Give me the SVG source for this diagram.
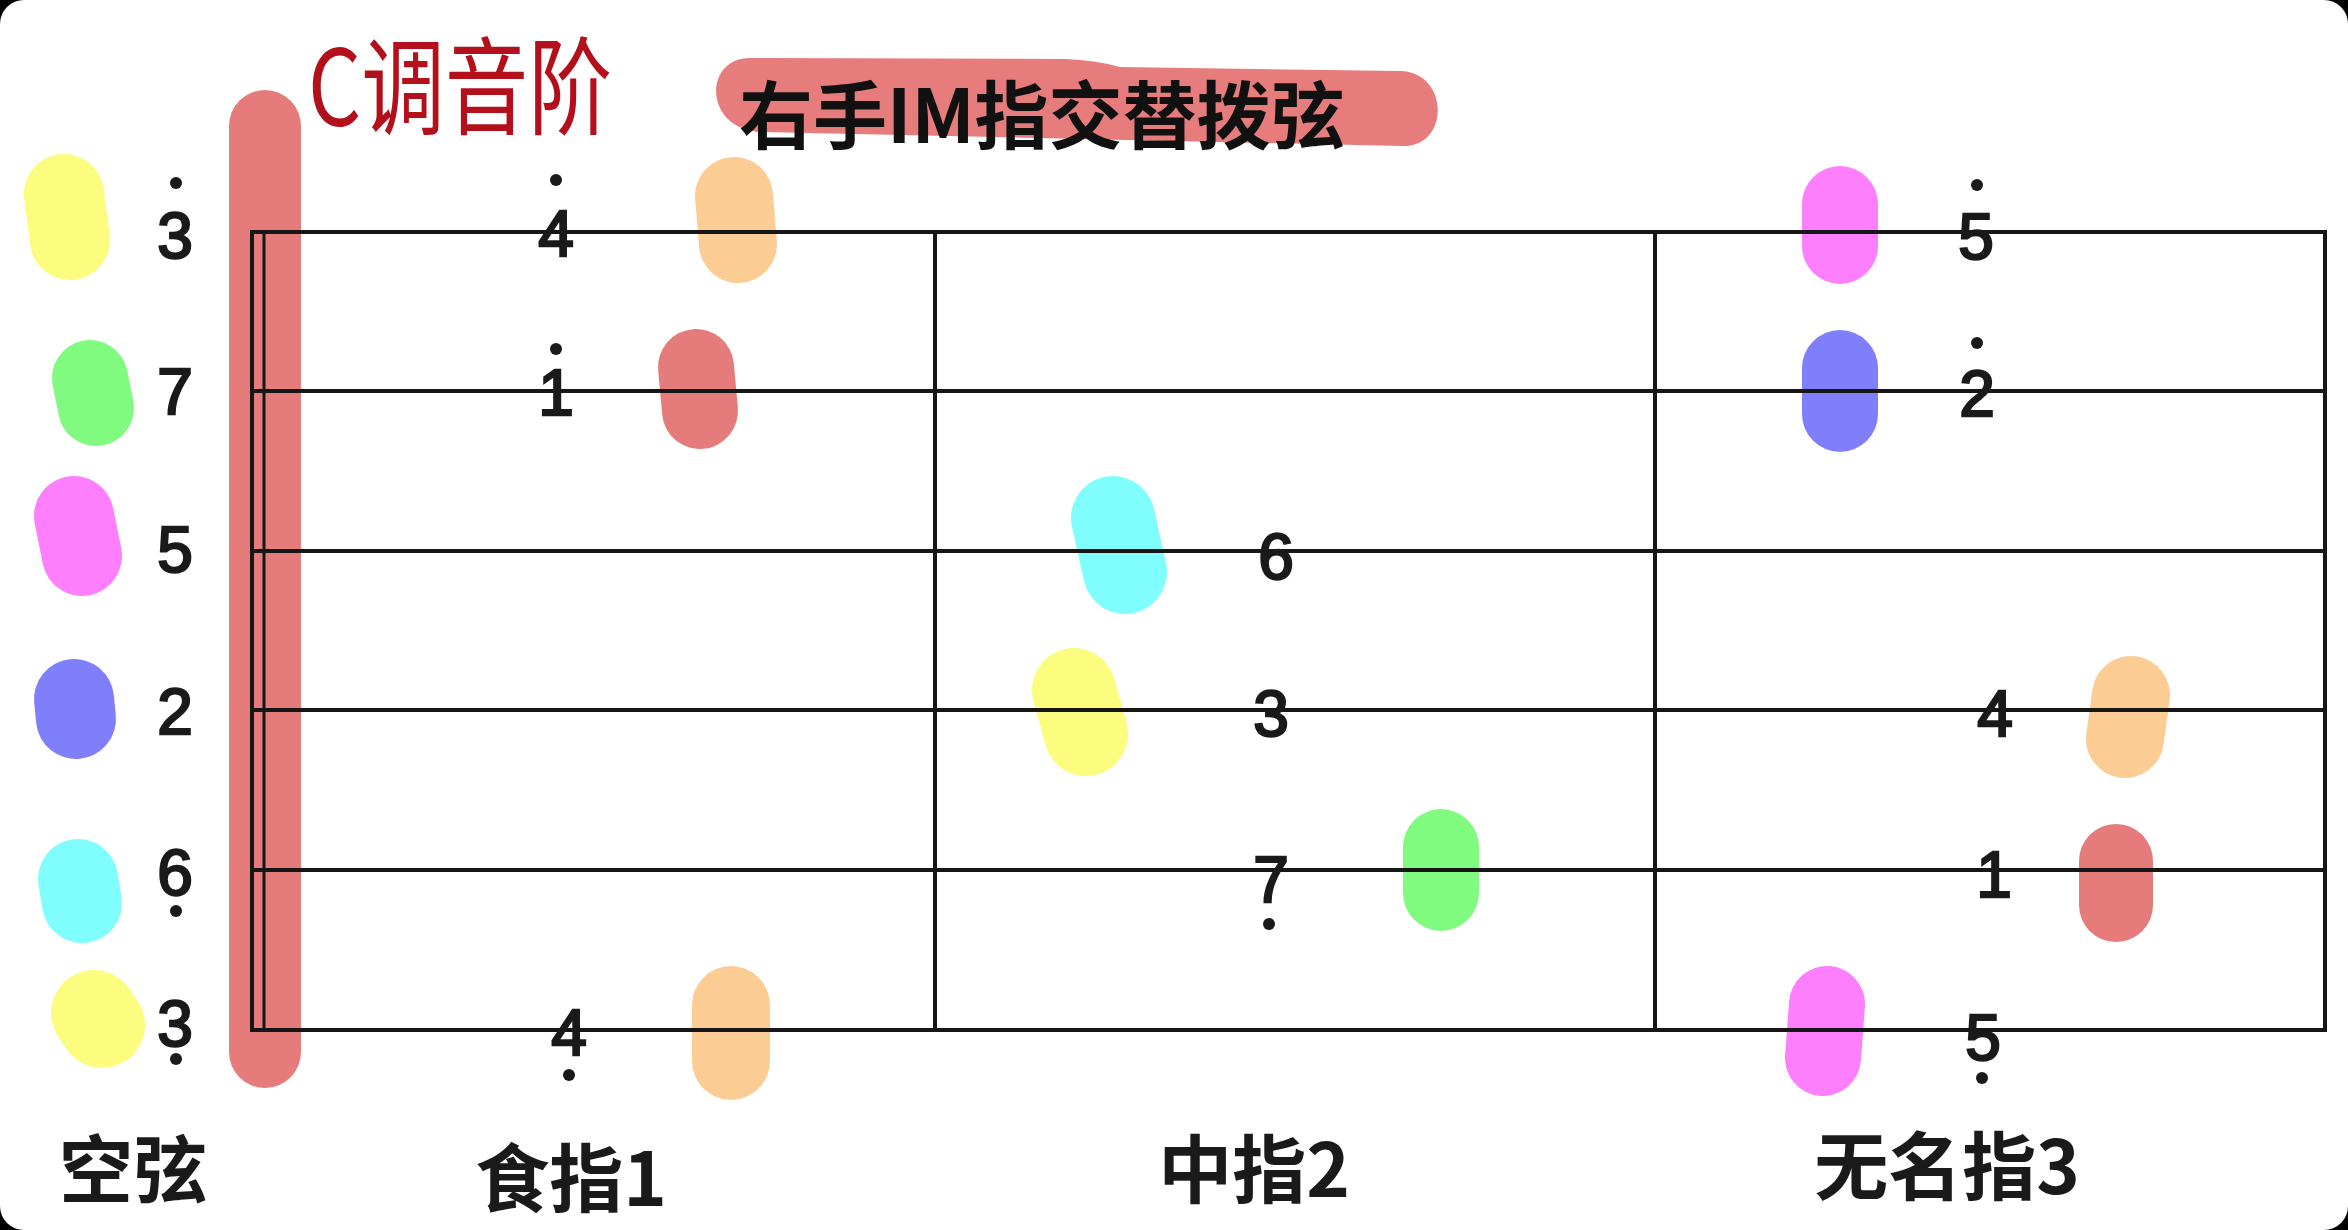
<svg xmlns="http://www.w3.org/2000/svg" width="2348" height="1230" viewBox="0 0 2348 1230">
<style>
.ln{stroke:#161616;stroke-width:4;fill:none}
.blob{fill:none;stroke-linecap:round}
.y{stroke:#fcfc7e}.g{stroke:#80fb80}.m{stroke:#fd7ffd}.b{stroke:#807ffb}.c{stroke:#80fdfd}.o{stroke:#fbcd95}.r{stroke:#e57b7b}
.d{font-family:"Liberation Sans",Arial,sans-serif;font-size:64px;fill:#1a1a1a;stroke:#1a1a1a;stroke-width:2.4;text-anchor:middle}
.dot{fill:#1a1a1a}
.lab{font-family:"Noto Sans CJK SC","Noto Sans",sans-serif;font-weight:bold;font-size:74px;fill:#1a1a1a;text-anchor:middle}
</style>
<rect x="0" y="0" width="2348" height="1230" fill="#000"/>
<rect x="0" y="0" width="2348" height="1230" rx="24" fill="#fff"/>

<g id="title-handwritten">
<text x="308" y="126" font-family="Noto Sans CJK SC, sans-serif" font-size="106" fill="#b3101c" textLength="304" lengthAdjust="spacingAndGlyphs">C调音阶</text>
</g>

<g id="banner">
<path d="M750,58 L1065,59 Q1095,60 1120,67 L1400,71 C1450,72 1450,148 1402,146 L762,132 C703,130 703,58 750,58 Z" fill="#e77c7c"/>
<text x="739" y="143" font-family="Noto Sans CJK SC, sans-serif" font-weight="bold" font-size="74" fill="#111">右手IM指交替拨弦</text>
</g>

<g id="highlights">
<line x1="265" y1="126" x2="265" y2="1052" class="blob r" stroke-width="72"/>
<line x1="64" y1="194" x2="70" y2="240" class="blob y" stroke-width="80"/>
<line x1="90" y1="378" x2="96" y2="408" class="blob g" stroke-width="76"/>
<line x1="74" y1="516" x2="82" y2="556" class="blob m" stroke-width="80"/>
<line x1="74" y1="699" x2="76" y2="719" class="blob b" stroke-width="80"/>
<line x1="78" y1="879" x2="82" y2="903" class="blob c" stroke-width="80"/>
<line x1="94" y1="1013" x2="102" y2="1025" class="blob y" stroke-width="86"/>
<line x1="734" y1="196" x2="738" y2="244" class="blob o" stroke-width="78"/>
<line x1="696" y1="367" x2="700" y2="411" class="blob r" stroke-width="76"/>
<line x1="731" y1="1005" x2="731" y2="1061" class="blob o" stroke-width="78"/>
<line x1="1113" y1="518" x2="1125" y2="572" class="blob c" stroke-width="84"/>
<line x1="1074" y1="690" x2="1086" y2="734" class="blob y" stroke-width="84"/>
<line x1="1441" y1="847" x2="1441" y2="893" class="blob g" stroke-width="76"/>
<line x1="1840" y1="204" x2="1840" y2="246" class="blob m" stroke-width="76"/>
<line x1="1840" y1="368" x2="1840" y2="414" class="blob b" stroke-width="76"/>
<line x1="2131" y1="695" x2="2125" y2="739" class="blob o" stroke-width="78"/>
<line x1="2116" y1="861" x2="2116" y2="905" class="blob r" stroke-width="74"/>
<line x1="1827" y1="1004" x2="1823" y2="1058" class="blob m" stroke-width="76"/>
</g>

<g id="connectors">
<line class="ln" x1="252" y1="232" x2="2325" y2="232"/>
<line class="ln" x1="252" y1="391" x2="2325" y2="391"/>
<line class="ln" x1="252" y1="551" x2="2325" y2="551"/>
<line class="ln" x1="252" y1="710" x2="2325" y2="710"/>
<line class="ln" x1="252" y1="870" x2="2325" y2="870"/>
<line class="ln" x1="252" y1="1030" x2="2325" y2="1030"/>
<line class="ln" x1="252" y1="230" x2="252" y2="1032"/>
<line class="ln" x1="264" y1="232" x2="264" y2="1030" style="stroke-width:3"/>
<line class="ln" x1="935" y1="230" x2="935" y2="1032"/>
<line class="ln" x1="1655" y1="230" x2="1655" y2="1032"/>
<line class="ln" x1="2325" y1="230" x2="2325" y2="1032"/>
</g>

<g id="open-strings">
<text class="d" x="175" y="258">3</text><circle class="dot" cx="176" cy="183" r="6"/>
<text class="d" x="175" y="414">7</text>
<text class="d" x="175" y="572">5</text>
<text class="d" x="175" y="734">2</text>
<text class="d" x="175" y="895">6</text><circle class="dot" cx="176" cy="911" r="6"/>
<text class="d" x="175" y="1046">3</text><circle class="dot" cx="176" cy="1059" r="6"/>
<text class="lab" x="133" y="1197">空弦</text>
</g>

<g id="finger-1">
<text class="d" x="556" y="256">4</text><circle class="dot" cx="556" cy="180" r="6"/>
<text class="d" x="556" y="415">1</text><circle class="dot" cx="556" cy="349" r="6"/>
<text class="d" x="569" y="1055">4</text><circle class="dot" cx="569" cy="1075" r="6"/>
<text class="lab" x="571" y="1206">食指1</text>
</g>

<g id="finger-2">
<text class="d" x="1276" y="579">6</text>
<text class="d" x="1271" y="736">3</text>
<text class="d" x="1271" y="902">7</text><circle class="dot" cx="1269" cy="924" r="6"/>
<text class="lab" x="1254" y="1197">中指2</text>
</g>

<g id="finger-3">
<text class="d" x="1976" y="259">5</text><circle class="dot" cx="1977" cy="185" r="6"/>
<text class="d" x="1977" y="416">2</text><circle class="dot" cx="1977" cy="343" r="6"/>
<text class="d" x="1995" y="736">4</text>
<text class="d" x="1994" y="897">1</text>
<text class="d" x="1983" y="1060">5</text><circle class="dot" cx="1982" cy="1078" r="6"/>
<text class="lab" x="1947" y="1194">无名指3</text>
</g>
</svg>
